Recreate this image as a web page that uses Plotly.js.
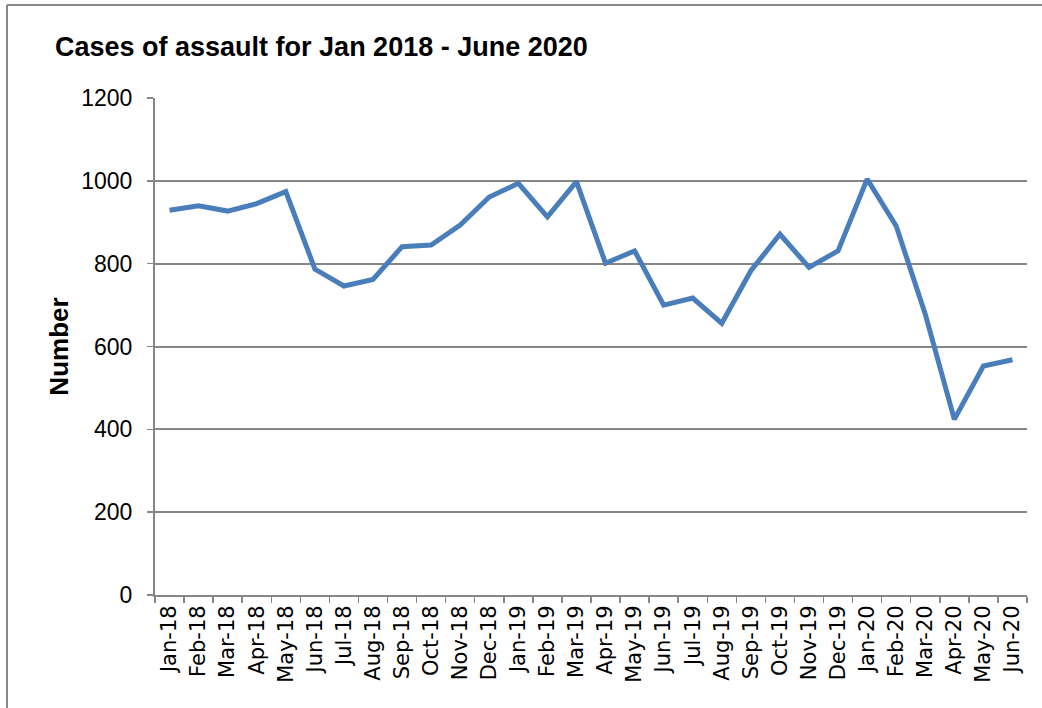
<!DOCTYPE html>
<html>
<head>
<meta charset="utf-8">
<script src="https://cdn.plot.ly/plotly-3.0.1.min.js"></script>
<style>
html,body{margin:0;padding:0;background:#fff;}
#chart{width:1042px;height:708px;}
</style>
</head>
<body>
<div id="chart"></div>
<script>
const months = ["Jan-18","Feb-18","Mar-18","Apr-18","May-18","Jun-18","Jul-18","Aug-18","Sep-18","Oct-18","Nov-18","Dec-18",
  "Jan-19","Feb-19","Mar-19","Apr-19","May-19","Jun-19","Jul-19","Aug-19","Sep-19","Oct-19","Nov-19","Dec-19",
  "Jan-20","Feb-20","Mar-20","Apr-20","May-20","Jun-20"];
const assaultCases = [929,940,927,945,974,787,746,762,841,845,893,961,
  994,913,998,801,831,700,717,656,783,871,791,831,
  1004,891,678,424,553,568];
const yTicks = [0,200,400,600,800,1000,1200];

const W = 1042, H = 708;
const M = {l:155, r:15, t:98, b:113};
const pw = W - M.l - M.r, ph = H - M.t - M.b;
const px = v => (v - M.l) / pw;
const py = v => (H - M.b - v) / ph;

const trace = {
  x: months,
  y: assaultCases,
  type: 'scatter',
  mode: 'lines',
  line: {color: '#4a7ebb', width: 5},
  hoverinfo: 'x+y'
};

const layout = {
  width: W, height: H,
  margin: M,
  paper_bgcolor: '#ffffff',
  plot_bgcolor: '#ffffff',
  showlegend: false,
  title: {
    text: '<b>Cases of assault for Jan 2018 - June 2020</b>',
    font: {family: 'Liberation Sans, Arial, sans-serif', size: 27, color: '#000'},
    xref: 'container', x: 55 / W, xanchor: 'left',
    yref: 'container', y: 1 - 47 / H, yanchor: 'middle'
  },
  xaxis: {
    type: 'category',
    tickson: 'boundaries',
    ticks: 'outside', ticklen: 6, tickwidth: 1.5, tickcolor: '#868686',
    showline: true, linecolor: '#868686', linewidth: 2,
    showgrid: false, zeroline: false,
    tickangle: -90,
    tickfont: {family: 'DejaVu Sans', size: 21, color: '#000'},
    range: [-0.5, months.length - 0.5]
  },
  yaxis: {
    range: [0, 1200],
    tickvals: yTicks,
    ticktext: yTicks.map(String),
    ticks: 'outside', ticklen: 6, tickwidth: 1.5, tickcolor: '#868686',
    showline: true, linecolor: '#868686', linewidth: 2,
    showgrid: true, gridcolor: '#868686', gridwidth: 2,
    zeroline: false,
    ticklabelstandoff: 10,
    tickfont: {family: 'Liberation Sans, Arial, sans-serif', size: 23, color: '#000'},
    title: {
      text: '<b>Number</b>',
      font: {family: 'Liberation Sans, Arial, sans-serif', size: 26, color: '#000'},
      standoff: 5
    }
  },
  shapes: [
    {type:'line', xref:'paper', yref:'paper', x0:px(7), x1:px(7), y0:py(H+5), y1:py(5),
     line:{color:'#888888', width:2}},
    {type:'line', xref:'paper', yref:'paper', x0:px(7), x1:px(W+5), y0:py(5), y1:py(5),
     line:{color:'#888888', width:2}}
  ]
};

Plotly.newPlot('chart', [trace], layout, {displayModeBar: false, staticPlot: true});
</script>
</body>
</html>
